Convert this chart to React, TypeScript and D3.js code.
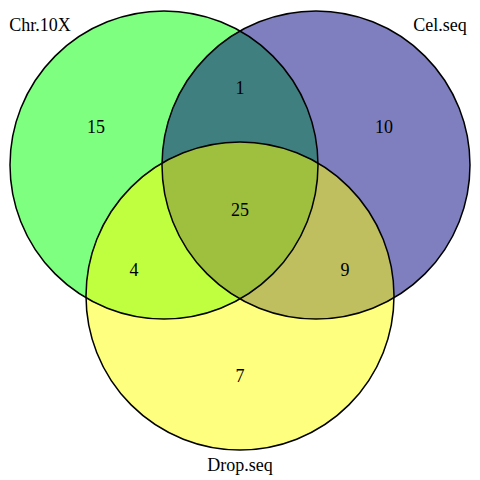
import React, { useEffect, useRef } from 'react';
import * as d3 from 'd3';

// sets: name, centre (in data units), colour
const setNames = ['Chr.10X', 'Cel.seq', 'Drop.seq'];
const setColors = ['#00ff00', '#000080', '#ffff00'];
const setCx = [164, 316, 240];
const setCy = [165, 165, 296];
const setR = 154;

// region counts and where they sit
const regionCounts = [15, 1, 10, 25, 4, 9, 7];
const regionX = [96, 240, 384, 240, 134, 345, 240];
const regionY = [127, 88, 127, 210, 270, 270, 376];

const labelX = [40, 440, 240];
const labelY = [25, 25, 465];

const App: React.FC = () => {
  const svgRef = useRef<SVGSVGElement>(null);
  const width = 480;
  const height = 480;

  useEffect(() => {
    if (!svgRef.current) return;
    const svg = d3.select(svgRef.current);
    svg.selectAll('*').remove();

    const x = d3.scaleLinear().domain([0, 480]).range([0, width]);
    const y = d3.scaleLinear().domain([0, 480]).range([0, height]);

    svg.append('rect').attr('width', width).attr('height', height).attr('fill', '#fff');

    // fills first, then outlines on top
    svg.selectAll('circle.fill')
      .data(setNames)
      .enter()
      .append('circle')
      .attr('class', 'fill')
      .attr('cx', (_, i) => x(setCx[i]))
      .attr('cy', (_, i) => y(setCy[i]))
      .attr('r', x(setR) - x(0))
      .attr('fill', (_, i) => setColors[i])
      .attr('fill-opacity', 0.5);

    svg.selectAll('circle.line')
      .data(setNames)
      .enter()
      .append('circle')
      .attr('class', 'line')
      .attr('cx', (_, i) => x(setCx[i]))
      .attr('cy', (_, i) => y(setCy[i]))
      .attr('r', x(setR) - x(0))
      .attr('fill', 'none')
      .attr('stroke', '#000')
      .attr('stroke-width', 1.5);

    svg.selectAll('text.count')
      .data(regionCounts)
      .enter()
      .append('text')
      .attr('class', 'count')
      .attr('x', (_, i) => x(regionX[i]))
      .attr('y', (_, i) => y(regionY[i]))
      .attr('text-anchor', 'middle')
      .attr('dominant-baseline', 'central')
      .style('font-family', '"Liberation Serif", "Times New Roman", serif')
      .style('font-size', '18px')
      .text(d => d);

    svg.selectAll('text.setname')
      .data(setNames)
      .enter()
      .append('text')
      .attr('class', 'setname')
      .attr('x', (_, i) => x(labelX[i]))
      .attr('y', (_, i) => y(labelY[i]))
      .attr('text-anchor', 'middle')
      .attr('dominant-baseline', 'central')
      .style('font-family', '"Liberation Serif", "Times New Roman", serif')
      .style('font-size', '18px')
      .text(d => d);
  }, []);

  return (
    <svg
      ref={svgRef}
      width={width}
      height={height}
      style={{ position: 'absolute', left: 0, top: 0 }}
    />
  );
};

export default App;
